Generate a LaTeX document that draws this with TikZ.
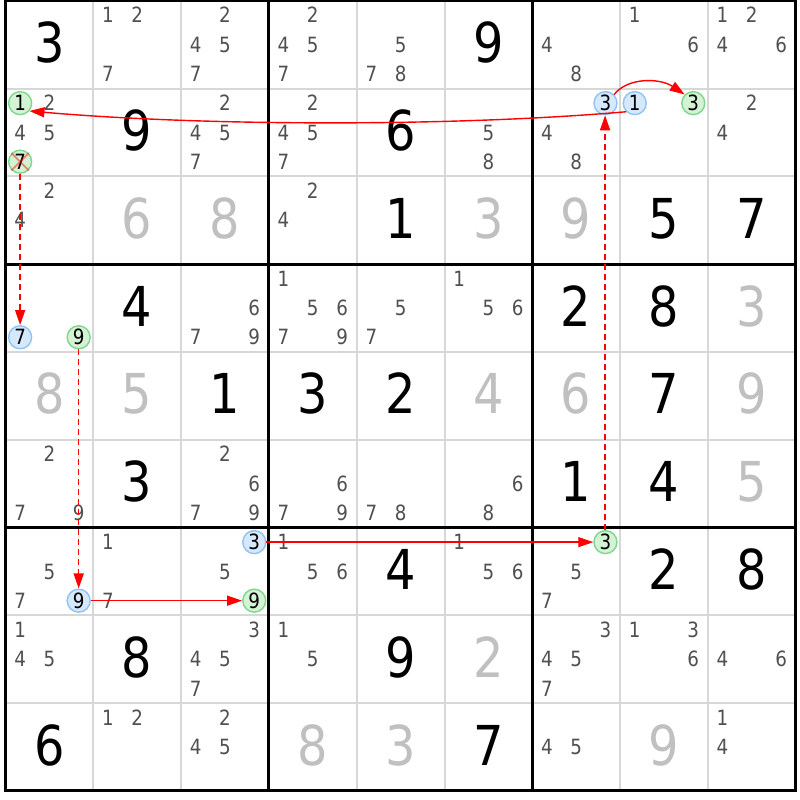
\documentclass[tikz,border=0pt]{standalone}
\usepackage{fontspec}
\setmainfont{DejaVu Sans}[FakeStretch=0.87]
\usetikzlibrary{arrows.meta}
\definecolor{candgray}{RGB}{80,80,80}
\definecolor{solvedgray}{RGB}{192,192,192}
\definecolor{thingrid}{RGB}{215,215,215}
\definecolor{bluefill}{RGB}{214,232,252}
\definecolor{blueline}{RGB}{145,195,245}
\definecolor{greenfill}{RGB}{212,242,212}
\definecolor{greenline}{RGB}{125,215,140}
\definecolor{chainred}{RGB}{255,0,0}
\tikzset{
  bigdigit/.style={inner sep=0pt, text height=40.1pt, text depth=0pt, font=\fontsize{55}{55}\selectfont},
  given/.style={bigdigit, text=black},
  solved/.style={bigdigit, text=solvedgray},
  cand/.style={inner sep=0pt, text height=15.3pt, text depth=0pt, font=\fontsize{21}{21}\selectfont, text=candgray},
  circbase/.style={circle, inner sep=0pt, minimum size=23pt, line width=1.4pt, text height=15.3pt, text depth=0pt, font=\fontsize{21}{21}\selectfont, text=black},
  bluecirc/.style={circbase, fill=bluefill, draw=blueline},
  greencirc/.style={circbase, fill=greenfill, draw=greenline},
  chain/.style={draw=chainred, line width=1.4pt, -{Triangle[length=15pt,width=10pt]}},
  weaklink/.style={chain, dash pattern=on 6pt off 4pt},
  xmark/.style={draw=chainred, draw opacity=0.45, line width=1.8pt},
  thinline/.style={draw=thingrid, line width=2pt},
  thickline/.style={draw=black, line width=3pt},
}
\newcommand\PlaceCand[4]{%
  \pgfmathsetmacro\candx{5.5+#3*87.8+14.63+mod(#4-1,3)*29.27}%
  \pgfmathsetmacro\candy{0.7+#2*87.8+14.63+div(#4-1,3)*29.27}%
  \node[#1] (d#2#3#4) at (\candx,\candy) {#4};}
\newcommand\Cands[3]{\foreach \dd in {#3}{\PlaceCand{cand}{#1}{#2}{\dd}}}
\newcommand\CellDigit[4]{%
  \pgfmathsetmacro\candx{5.5+#3*87.8+43.9}%
  \pgfmathsetmacro\candy{0.7+#2*87.8+43.9-2}%
  \node[#1] (g#2#3) at (\candx,\candy) {#4};}
\begin{document}
\begin{tikzpicture}[x=1pt,y=-1pt]
\useasboundingbox (0,0) rectangle (800,800);
\fill[white] (0,0) rectangle (800,800);
% grid
\foreach \i in {1,2,4,5,7,8}{
  \draw[thinline] ({5.5+\i*87.8},0.7) -- ({5.5+\i*87.8},790.9);
  \draw[thinline] (5.5,{0.7+\i*87.8}) -- (795.7,{0.7+\i*87.8});
}
\foreach \i in {0,3,6,9}{
  \draw[thickline] ({5.5+\i*87.8},-0.8) -- ({5.5+\i*87.8},792.4);
  \draw[thickline] (4,{0.7+\i*87.8}) -- (797.2,{0.7+\i*87.8});
}
% row 0
\CellDigit{given}{0}{0}{3}
\Cands{0}{1}{1,2,7}
\Cands{0}{2}{2,4,5,7}
\Cands{0}{3}{2,4,5,7}
\Cands{0}{4}{5,7,8}
\CellDigit{given}{0}{5}{9}
\Cands{0}{6}{4,8}
\Cands{0}{7}{1,6}
\Cands{0}{8}{1,2,4,6}
% row 1
\Cands{1}{0}{2,4,5}
\CellDigit{given}{1}{1}{9}
\Cands{1}{2}{2,4,5,7}
\Cands{1}{3}{2,4,5,7}
\CellDigit{given}{1}{4}{6}
\Cands{1}{5}{5,8}
\Cands{1}{6}{4,8}
\Cands{1}{8}{2,4}
% row 2
\Cands{2}{0}{2,4}
\CellDigit{solved}{2}{1}{6}
\CellDigit{solved}{2}{2}{8}
\Cands{2}{3}{2,4}
\CellDigit{given}{2}{4}{1}
\CellDigit{solved}{2}{5}{3}
\CellDigit{solved}{2}{6}{9}
\CellDigit{given}{2}{7}{5}
\CellDigit{given}{2}{8}{7}
% row 3
\CellDigit{given}{3}{1}{4}
\Cands{3}{2}{6,7,9}
\Cands{3}{3}{1,5,6,7,9}
\Cands{3}{4}{5,7}
\Cands{3}{5}{1,5,6}
\CellDigit{given}{3}{6}{2}
\CellDigit{given}{3}{7}{8}
\CellDigit{solved}{3}{8}{3}
% row 4
\CellDigit{solved}{4}{0}{8}
\CellDigit{solved}{4}{1}{5}
\CellDigit{given}{4}{2}{1}
\CellDigit{given}{4}{3}{3}
\CellDigit{given}{4}{4}{2}
\CellDigit{solved}{4}{5}{4}
\CellDigit{solved}{4}{6}{6}
\CellDigit{given}{4}{7}{7}
\CellDigit{solved}{4}{8}{9}
% row 5
\Cands{5}{0}{2,7,9}
\CellDigit{given}{5}{1}{3}
\Cands{5}{2}{2,6,7,9}
\Cands{5}{3}{6,7,9}
\Cands{5}{4}{7,8}
\Cands{5}{5}{6,8}
\CellDigit{given}{5}{6}{1}
\CellDigit{given}{5}{7}{4}
\CellDigit{solved}{5}{8}{5}
% row 6
\Cands{6}{0}{5,7}
\Cands{6}{1}{1,7}
\Cands{6}{2}{5}
\Cands{6}{3}{1,5,6}
\CellDigit{given}{6}{4}{4}
\Cands{6}{5}{1,5,6}
\Cands{6}{6}{5,7}
\CellDigit{given}{6}{7}{2}
\CellDigit{given}{6}{8}{8}
% row 7
\Cands{7}{0}{1,4,5}
\CellDigit{given}{7}{1}{8}
\Cands{7}{2}{3,4,5,7}
\Cands{7}{3}{1,5}
\CellDigit{given}{7}{4}{9}
\CellDigit{solved}{7}{5}{2}
\Cands{7}{6}{3,4,5,7}
\Cands{7}{7}{1,3,6}
\Cands{7}{8}{4,6}
% row 8
\CellDigit{given}{8}{0}{6}
\Cands{8}{1}{1,2}
\Cands{8}{2}{2,4,5}
\CellDigit{solved}{8}{3}{8}
\CellDigit{solved}{8}{4}{3}
\CellDigit{given}{8}{5}{7}
\Cands{8}{6}{4,5}
\CellDigit{solved}{8}{7}{9}
\Cands{8}{8}{1,4}
% highlighted candidates
\PlaceCand{greencirc}{1}{0}{1}
\PlaceCand{greencirc}{1}{0}{7}
\PlaceCand{bluecirc}{1}{6}{3}
\PlaceCand{bluecirc}{1}{7}{1}
\PlaceCand{greencirc}{1}{7}{3}
\PlaceCand{bluecirc}{3}{0}{7}
\PlaceCand{greencirc}{3}{0}{9}
\PlaceCand{bluecirc}{6}{0}{9}
\PlaceCand{bluecirc}{6}{2}{3}
\PlaceCand{greencirc}{6}{2}{9}
\PlaceCand{greencirc}{6}{6}{3}
% elimination mark
\draw[xmark] (d107.north west) -- (d107.south east) (d107.north east) -- (d107.south west);
% chain
\draw[chain] (d171.225) .. controls (450,127) and (200,126) .. (d101.-40);
\draw[chain] (d163.45) .. controls (628,77) and (660,78) .. (d173.135);
\draw[weaklink, line width=1.6pt] ([xshift=-0.4pt]d663.north) -- ([xshift=-0.4pt]d163.south);
\draw[chain] (d623) -- (d663);
\draw[chain] (d609) -- (d629);
\draw[weaklink] (d309) -- (d609);
\draw[weaklink] (d107) -- (d307);
\end{tikzpicture}
\end{document}
